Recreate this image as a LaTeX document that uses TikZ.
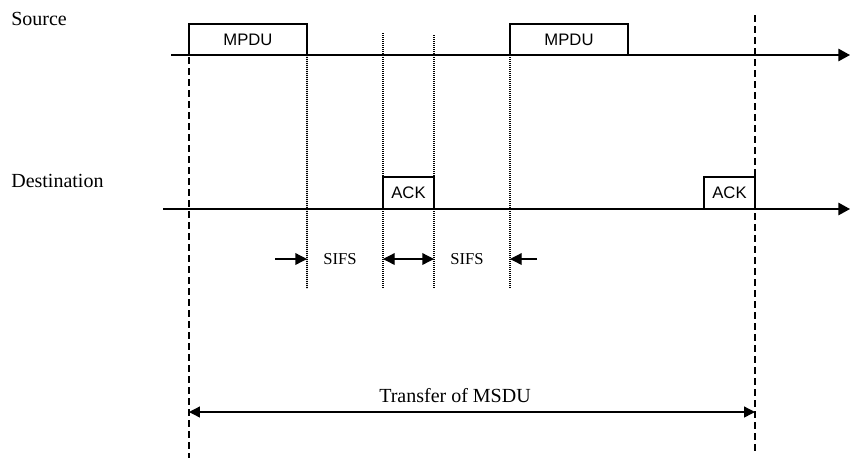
\documentclass[tikz,border=0pt]{standalone}
\usepackage{fontspec}
\setmainfont{Liberation Serif}
\setsansfont{Liberation Sans}
\usetikzlibrary{arrows.meta,positioning}

\begin{document}
\begin{tikzpicture}[x=0.6pt, y=-0.6pt, >={Triangle[length=6.5pt,width=6.5pt]},
  frame/.style={draw, line width=0.8pt, inner sep=0pt, outer sep=0pt, anchor=south west, font=\sffamily\fontsize{10}{12}\selectfont},
  station/.style={anchor=base west, inner sep=0pt, font=\fontsize{12}{14}\selectfont},
  axis/.style={line width=0.8pt, ->, >={Triangle[length=7pt,width=7.5pt]}},
  bound/.style={line width=1.2pt, dash pattern=on 4.2pt off 2.4pt},
  gap/.style={line width=1pt, dash pattern=on 0.6pt off 0.6pt},
  sifs/.style={font=\fontsize{10}{12}\selectfont}]
\useasboundingbox (0,0) rectangle (850,458);

% stations
\node (src) [station] at (11,25) {Source};
\node (dst) [station] at (11,187) {Destination};

% time axes
\coordinate (srcL) at (171,55);
\coordinate (srcR) at (850,55);
\coordinate (dstL) at (163,209);
\coordinate (dstR) at (850,209);
\draw[axis] (srcL) -- (srcR);
\draw[axis] (dstL) -- (dstR);

% frames
\node (mpduA) [frame, minimum width=70.8pt, minimum height=18.6pt] at (189,55) {MPDU};
\node (mpduB) [frame, minimum width=70.8pt, minimum height=18.6pt] at (510,55) {MPDU};
\node (ackA) [frame, minimum width=30.6pt, minimum height=19.2pt] at (383,209) {ACK};
\node (ackB) [frame, minimum width=30.6pt, minimum height=19.2pt] at (704,209) {ACK};

% boundaries of the transfer
\coordinate (startB) at (189,458);
\coordinate (endT) at (755,15);
\coordinate (endB) at (755,453);
\draw[bound] (mpduA.north west) -- (startB);
\draw[bound] (endT) -- (endB);

% interframe spaces
\coordinate (g1) at (307,288);
\coordinate (g2T) at (383,33);
\coordinate (g2) at (383,288);
\coordinate (g3T) at (434,35);
\coordinate (g3) at (434,288);
\coordinate (g4) at (510,288);
\draw[gap] (mpduA.south east) -- (g1);
\draw[gap] (g2T) -- (g2);
\draw[gap] (g3T) -- (g3);
\draw[gap] (mpduB.south west) -- (g4);

\coordinate (s1) at (275,259);
\coordinate (s1e) at (307,259);
\coordinate (s2) at (383,259);
\coordinate (s2e) at (434,259);
\coordinate (s3) at (537,259);
\coordinate (s3e) at (510,259);
\draw[line width=0.8pt, ->, >={Triangle[length=7pt,width=7pt]}] (s1) -- (s1e);
\draw[line width=0.8pt, <->, >={Triangle[length=7pt,width=7pt]}] (s2) -- (s2e);
\draw[line width=0.8pt, ->, >={Triangle[length=7pt,width=7pt]}] (s3) -- (s3e);
\node (sifsA) [sifs] at (340,259) {SIFS};
\node (sifsB) [sifs] at (467,259) {SIFS};

% whole transfer
\coordinate (tL) at (189,412);
\coordinate (tR) at (755,412);
\draw[line width=0.8pt, <->] (tL) -- (tR);
\node (msdu) [anchor=base, font=\fontsize{12}{14}\selectfont] at (455,402) {Transfer of MSDU};
\end{tikzpicture}
\end{document}
